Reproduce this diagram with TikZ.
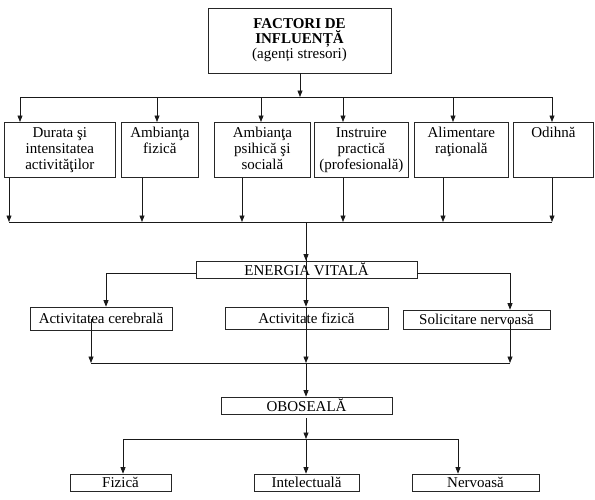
\documentclass[tikz,border=0pt]{standalone}
\usepackage{fontspec}
\setmainfont{Liberation Serif}
\usetikzlibrary{arrows.meta}
\newcommand{\topcell}[2]{\parbox[b][55pt][t]{#1}{\centering\vspace*{3.5pt}#2}}
\begin{document}
\begin{tikzpicture}[x=1pt,y=-1pt,
  txt/.style={font=\fontsize{15}{16}\selectfont},
  topbox/.style={txt,draw=black!85,line width=0.7pt,anchor=north west,inner sep=0pt},
  midbox/.style={txt,draw=black!85,line width=0.7pt,inner sep=0pt,align=center},
  conn/.style={draw=black!90,line width=0.7pt},
  arr/.style={conn,-{Triangle[length=6.5pt,width=5pt]}}]
\useasboundingbox[fill=white] (0,0) rectangle (595,499);

% title
\node[midbox,minimum width=183pt,minimum height=65pt,font=\fontsize{15}{15}\selectfont] (title) at (299.5,40.5)
  {\textbf{FACTORI DE}\\\textbf{INFLUENȚĂ}\\(agenți stresori)};

% first row of boxes
\node[topbox] (b1) at (4,122)   {\topcell{111pt}{\strut Durata şi\\intensitatea\\activităţilor}};
\node[topbox] (b2) at (121,122) {\topcell{77pt}{\strut Ambianţa\\fizică}};
\node[topbox] (b3) at (214,122) {\topcell{96pt}{\strut Ambianţa\\psihică şi\\socială}};
\node[topbox] (b4) at (314,122) {\topcell{94pt}{\strut Instruire\\practică\\(profesională)}};
\node[topbox] (b5) at (414,122) {\topcell{94pt}{\strut Alimentare\\raţională}};
\node[topbox] (b6) at (513,122) {\topcell{80pt}{\strut Odihnă}};

% middle row
\node[midbox,minimum width=221pt,minimum height=17pt] (ev) at (306.5,269.5) {ENERGIA VITALĂ};
\node[midbox,minimum width=142pt,minimum height=23pt] (ac) at (101,318.5) {Activitatea cerebrală};
\node[midbox,minimum width=163pt,minimum height=22pt] (af) at (306.5,318) {Activitate fizică};
\node[midbox,minimum width=147pt,minimum height=19pt] (sn) at (476.5,319.5) {Solicitare nervoasă};

% oboseala
\node[midbox,minimum width=171pt,minimum height=17pt] (ob) at (306.5,405.5) {OBOSEALĂ};

% bottom row
\node[midbox,minimum width=101pt,minimum height=17pt] (fz) at (120.5,482.5) {Fizică};
\node[midbox,minimum width=105pt,minimum height=17pt] (it) at (306.5,482.5) {Intelectuală};
\node[midbox,minimum width=127pt,minimum height=17pt] (nv) at (475.5,482.5) {Nervoasă};

% top bus
\coordinate (a0) at (300,97);
\coordinate (a1) at (20,97);
\coordinate (a2) at (157,97);
\coordinate (a3) at (261,97);
\coordinate (a4) at (343,97);
\coordinate (a5) at (453,97);
\coordinate (a6) at (552,97);
\draw[arr] (title.south -| a0) -- (a0);
\draw[conn] (a1) -- (a6);
\draw[arr] (a1) -- (a1 |- b1.north);
\draw[arr] (a2) -- (a2 |- b2.north);
\draw[arr] (a3) -- (a3 |- b3.north);
\draw[arr] (a4) -- (a4 |- b4.north);
\draw[arr] (a5) -- (a5 |- b5.north);
\draw[arr] (a6) -- (a6 |- b6.north);

% lower bus of first row
\coordinate (c0) at (306,222);
\coordinate (c1) at (9,222);
\coordinate (c2) at (142,222);
\coordinate (c3) at (242,222);
\coordinate (c4) at (343,222);
\coordinate (c5) at (443,222);
\coordinate (c6) at (552,222);
\draw[conn] (c1) -- (c6);
\draw[arr] (c1 |- b1.south) -- (c1);
\draw[arr] (c2 |- b2.south) -- (c2);
\draw[arr] (c3 |- b3.south) -- (c3);
\draw[arr] (c4 |- b4.south) -- (c4);
\draw[arr] (c5 |- b5.south) -- (c5);
\draw[arr] (c6 |- b6.south) -- (c6);

% energia vitala
\draw[arr] (c0) -- (c0 |- ev.north);
\draw[arr] (c0) -- (c0 |- af.north);
\coordinate (l1) at (106,273);
\coordinate (r1) at (510,273);
\draw[arr] (ev.west |- l1) -| (l1 |- ac.north);
\draw[arr] (ev.east |- r1) -| (r1 |- sn.north);

% second bus
\coordinate (d0) at (306,363);
\coordinate (d1) at (91,363);
\coordinate (d3) at (510,363);
\draw[conn] (d1) -- (d3);
\draw[arr] (d1 |- ac.center) -- (d1);
\draw[arr] (d3 |- sn.center) -- (d3);
\draw[arr] (d0 |- af.north) -- (d0);
\draw[arr] (d0) -- (d0 |- ob.north);

% third bus
\coordinate (e0) at (306,439);
\coordinate (e1) at (123,439);
\coordinate (e3) at (458,439);
\draw[arr] ([yshift=-4pt]ob.south -| e0) -- (e0);
\draw[conn] (e1) -- (e3);
\draw[arr] (e1) -- (e1 |- fz.north);
\draw[arr] (e0) -- (e0 |- it.north);
\draw[arr] (e3) -- (e3 |- nv.north);
\end{tikzpicture}
\end{document}
